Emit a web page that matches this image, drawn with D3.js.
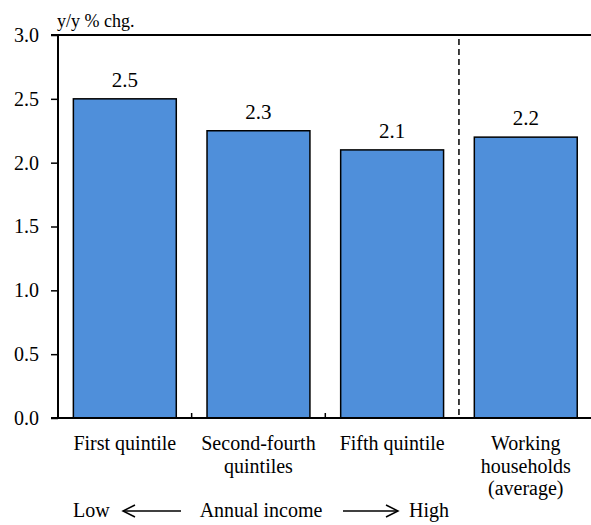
<!DOCTYPE html>
<html>
<head>
<meta charset="utf-8">
<script src="https://cdn.jsdelivr.net/npm/d3@7"></script>
<style>
  html, body { margin: 0; padding: 0; background: #fff; }
  svg { display: block; }
</style>
</head>
<body>
<div id="chart"></div>
<script>
const categories = ["First quintile", "Second-fourth quintiles", "Fifth quintile", "Working households (average)"];
const categoryLines = [["First quintile"], ["Second-fourth", "quintiles"], ["Fifth quintile"], ["Working", "households", "(average)"]];
const values = [2.5, 2.25, 2.1, 2.2];
const valueLabels = ["2.5", "2.3", "2.1", "2.2"];
const yTicks = [0, 0.5, 1.0, 1.5, 2.0, 2.5, 3.0];
const yUnit = "y/y % chg.";
const incomeLabels = ["Low", "Annual income", "High"];

const FONT = "'Liberation Serif', 'Times New Roman', Times, serif";
const W = 591, H = 525;
const margin = { top: 35, left: 58, bottom: 107 };
const plotRight = 592.6;

const svg = d3.select("#chart").append("svg").attr("width", W).attr("height", H)
  .attr("font-family", FONT);

const x = d3.scaleBand().domain(categories).range([margin.left, plotRight]).paddingInner(0.23).paddingOuter(0.115);
const y = d3.scaleLinear().domain([0, 3]).range([H - margin.bottom, margin.top]);
const y0 = y(0);

// bars
svg.selectAll("rect.bar").data(values).enter().append("rect")
  .attr("class", "bar")
  .attr("x", (d, i) => x(categories[i]))
  .attr("y", d => y(d))
  .attr("width", x.bandwidth())
  .attr("height", d => y0 - y(d))
  .attr("fill", "#4f8fda")
  .attr("stroke", "#000")
  .attr("stroke-width", 1.5);

// value labels
svg.selectAll("text.val").data(values).enter().append("text")
  .attr("class", "val")
  .attr("x", (d, i) => x(categories[i]) + x.bandwidth() / 2)
  .attr("y", d => y(d) - 12)
  .attr("text-anchor", "middle")
  .attr("font-family", FONT)
  .attr("font-size", 21)
  .text((d, i) => valueLabels[i]);

// y axis
const yAxis = d3.axisLeft(y).tickValues(yTicks).tickFormat(d3.format(".1f")).tickSize(7).tickPadding(12);
const gy = svg.append("g").attr("transform", `translate(${margin.left},0)`).call(yAxis);
gy.attr("font-family", FONT);
gy.select(".domain").attr("d", `M0,${y(3)}V${y0}`).attr("stroke-width", 2);
gy.selectAll(".tick line").attr("stroke-width", 1.5);
gy.selectAll(".tick text").attr("font-size", 20).attr("font-family", FONT).attr("fill", "#000");

// top border
svg.append("line").attr("x1", margin.left - 7).attr("x2", W).attr("y1", y(3)).attr("y2", y(3))
  .attr("stroke", "#000").attr("stroke-width", 2);
// bottom axis
svg.append("line").attr("x1", margin.left - 7).attr("x2", W).attr("y1", y0).attr("y2", y0)
  .attr("stroke", "#000").attr("stroke-width", 2);

// band boundary ticks
const step = x.step();
[1, 2].forEach(k => {
  const bx = margin.left + k * step;
  svg.append("line").attr("x1", bx).attr("x2", bx).attr("y1", y0).attr("y2", y0 - 5)
    .attr("stroke", "#000").attr("stroke-width", 1.5);
});
// dashed separator
const sx = margin.left + 3 * step;
svg.append("line").attr("x1", sx).attr("x2", sx).attr("y1", y(3) + 4).attr("y2", y0)
  .attr("stroke", "#000").attr("stroke-width", 1.5).attr("stroke-dasharray", "6,4");

// category labels
categoryLines.forEach((lines, i) => {
  const cx = x(categories[i]) + x.bandwidth() / 2;
  const t = svg.append("text")
    .attr("x", cx)
    .attr("y", 450)
    .attr("text-anchor", "middle")
    .attr("font-family", FONT)
    .attr("font-size", 20);
  lines.forEach((l, j) => {
    t.append("tspan").attr("x", cx).attr("dy", j === 0 ? 0 : 22.5).text(l);
  });
});

// unit label
svg.append("text").attr("x", 57).attr("y", 27).attr("font-family", FONT).attr("font-size", 18).text(yUnit);

// income row
const rowY = 517;
svg.append("text").attr("x", 73).attr("y", rowY).attr("font-family", FONT).attr("font-size", 20).text(incomeLabels[0]);
svg.append("text").attr("x", 261).attr("y", rowY).attr("font-family", FONT).attr("font-size", 20).attr("text-anchor", "middle").text(incomeLabels[1]);
svg.append("text").attr("x", 409).attr("y", rowY).attr("font-family", FONT).attr("font-size", 20).text(incomeLabels[2]);

const ay = 511;
function arrow(xFrom, xTo) {
  const dir = Math.sign(xTo - xFrom);
  svg.append("line").attr("x1", xFrom).attr("x2", xTo).attr("y1", ay).attr("y2", ay)
    .attr("stroke", "#000").attr("stroke-width", 1.5);
  svg.append("path")
    .attr("d", `M${xTo - dir * 12},${ay - 6}L${xTo},${ay}L${xTo - dir * 12},${ay + 6}`)
    .attr("fill", "none").attr("stroke", "#000").attr("stroke-width", 1.5);
}
arrow(181, 123);
arrow(343, 398);
</script>
</body>
</html>
